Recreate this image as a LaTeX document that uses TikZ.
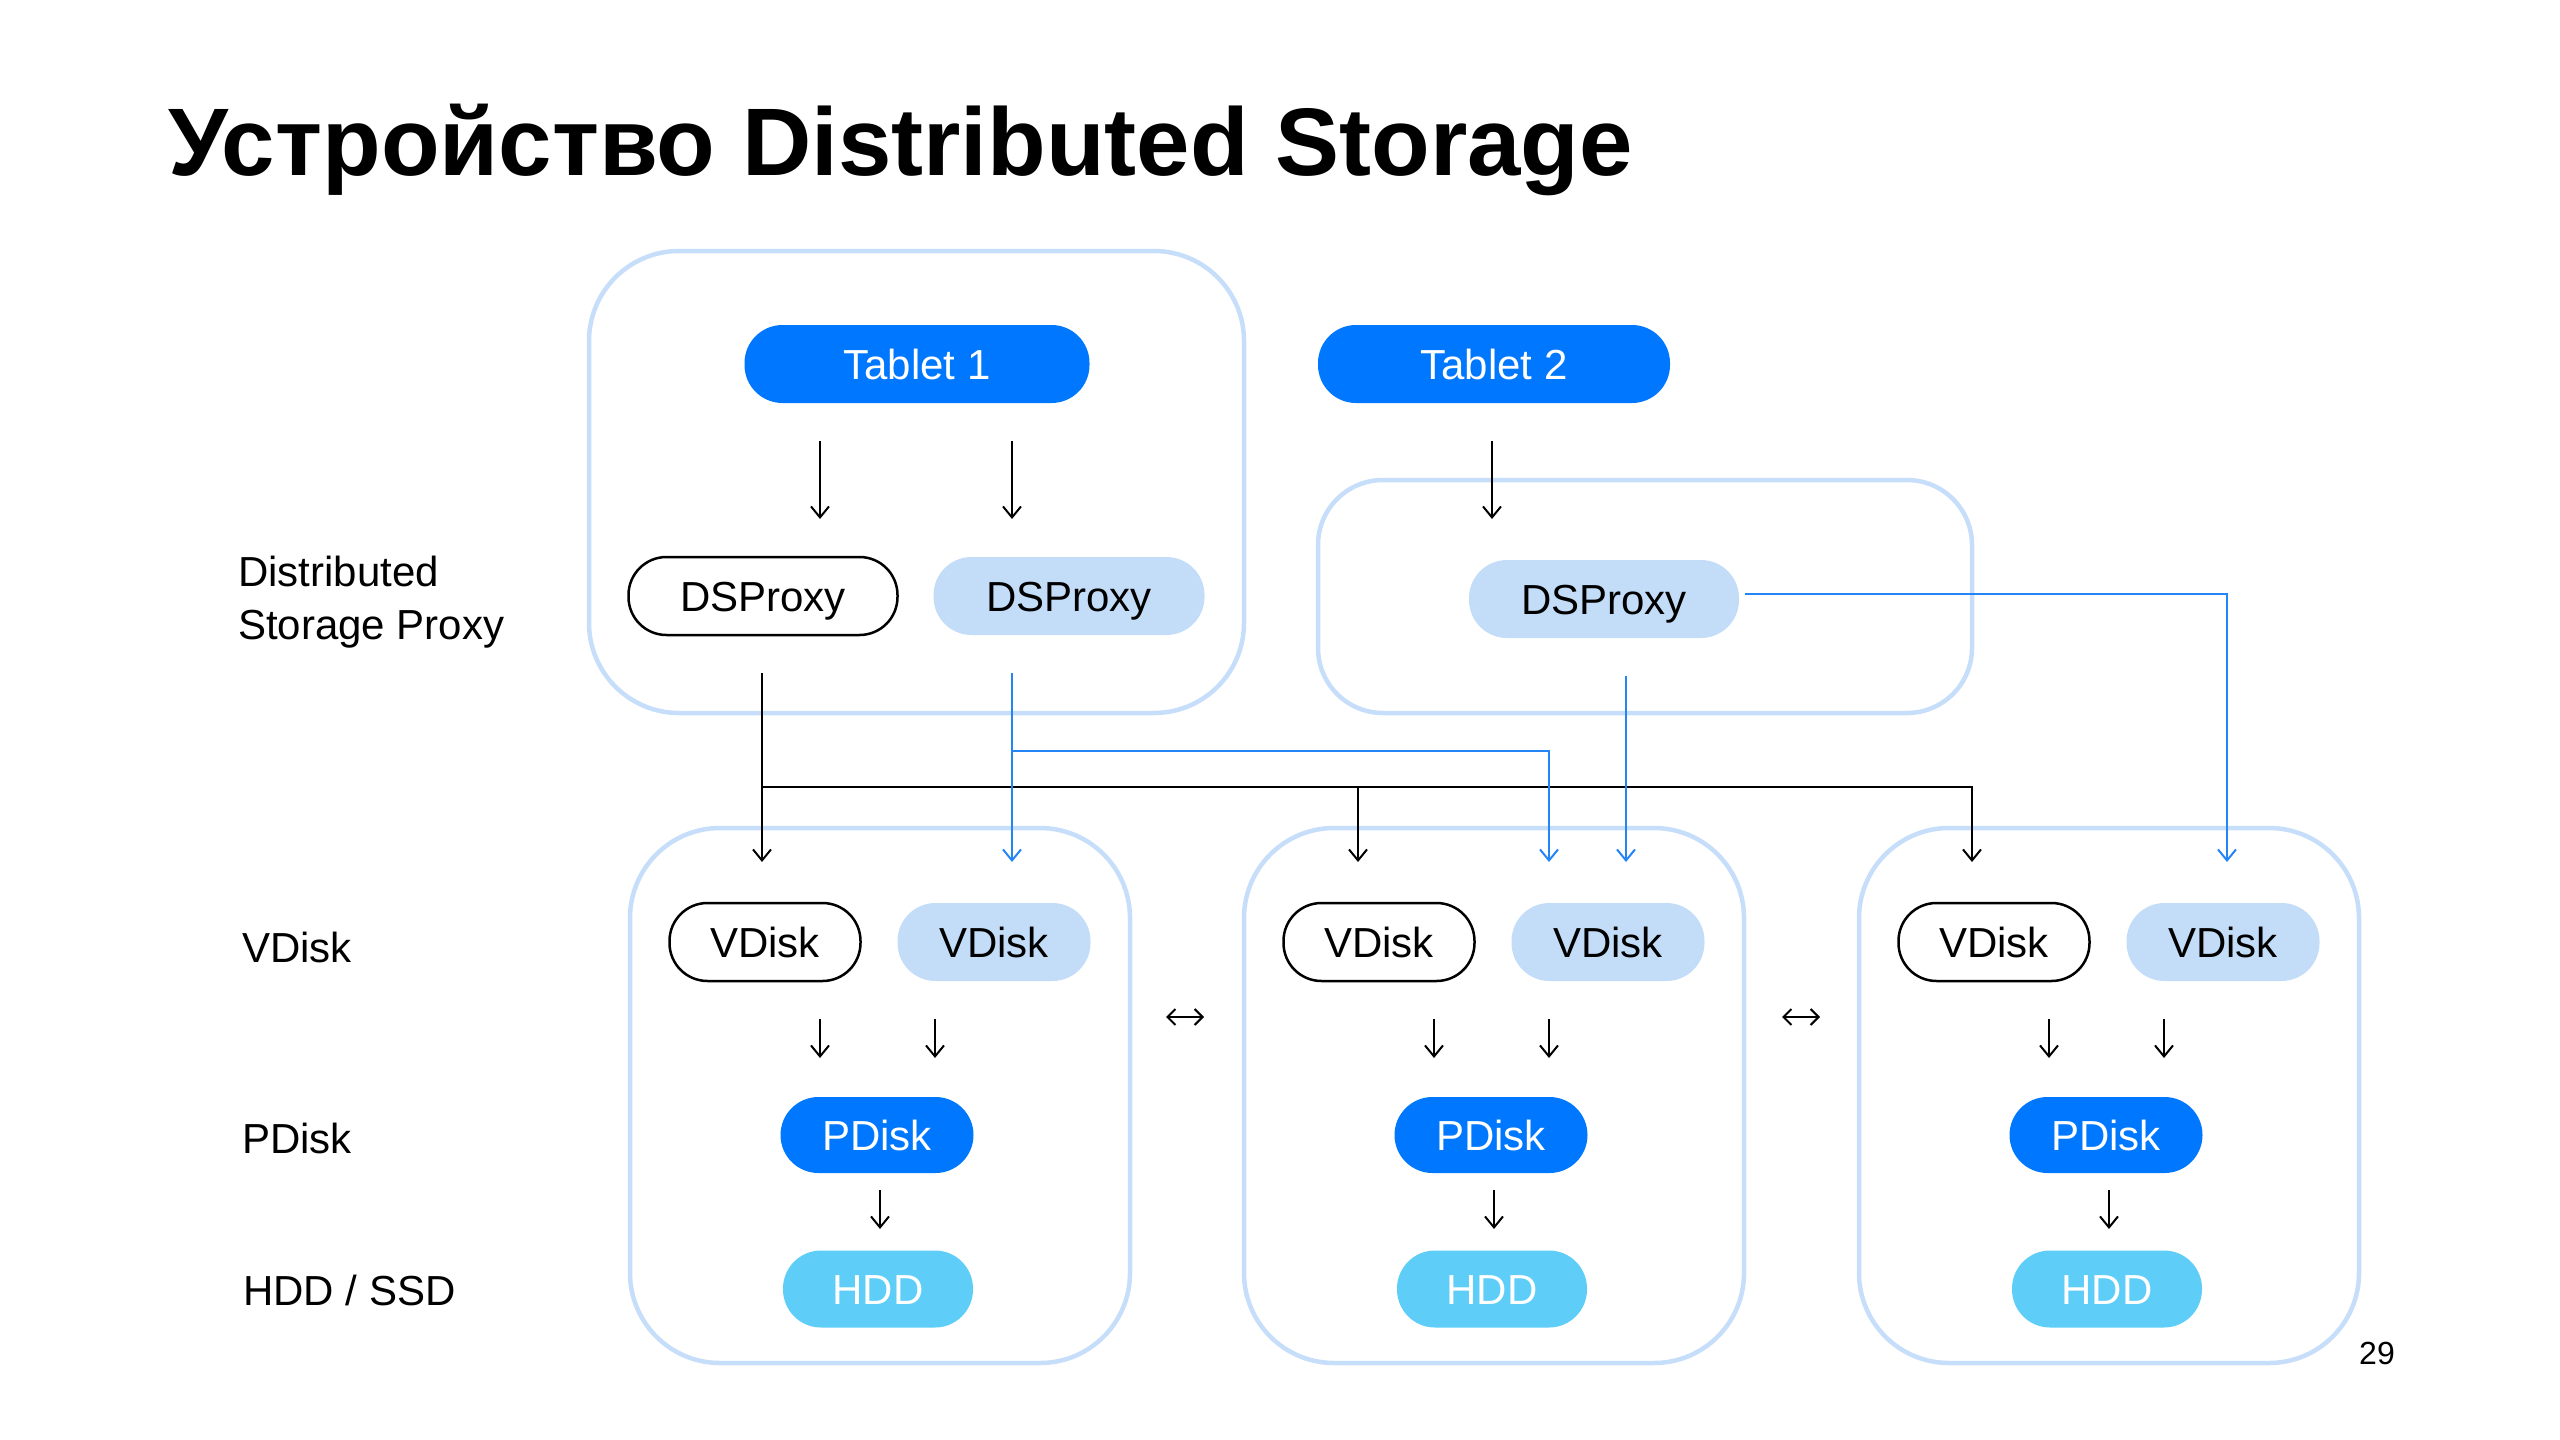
\documentclass[tikz,border=0pt]{standalone}
\usepackage{fontspec}
\setmainfont{Liberation Sans}
\usetikzlibrary{arrows.meta}
\definecolor{dblue}{HTML}{0077FF}
\definecolor{lfill}{HTML}{C3DDF9}
\definecolor{hddc}{HTML}{5ECEF9}
\definecolor{lblue}{HTML}{2585F7}
\definecolor{boxc}{HTML}{C6DEFA}
\tikzset{
  pill/.style={rounded corners=38pt, minimum height=78pt, inner sep=0pt, text height=30pt, text depth=0pt, font=\fontsize{42}{50}\selectfont},
  darkpill/.style={pill, fill=dblue, text=white},
  lightpill/.style={pill, fill=lfill},
  whitepill/.style={pill, draw=black, line width=2.5pt, fill=white},
  hddpill/.style={pill, fill=hddc, text=white},
  group/.style={draw=boxc, line width=4.5pt, rounded corners=90pt, inner sep=0pt},
  arr/.style={-{Straight Barb[length=11pt,width=18pt]}, line width=2pt, draw=black},
  barr/.style={arr, draw=lblue},
  bline/.style={line width=2pt, draw=lblue},
  kline/.style={line width=2pt, draw=black},
  lbl/.style={anchor=west, inner sep=0pt, font=\fontsize{42}{53}\selectfont, align=left}
}
\begin{document}
\begin{tikzpicture}[x=1pt,y=-1pt]
\useasboundingbox (0,0) rectangle (2560,1440);
% title
\node[anchor=base west, inner sep=0pt, font=\fontsize{96}{110}\selectfont\bfseries] (title) at (168,175) {Устройство Distributed Storage};
% left labels
\node[lbl] (ldsp) at (238,602) {Distributed\\Storage Proxy};
\node[lbl, text height=30pt, text depth=0pt] (lvd) at (242,947) {VDisk};
\node[lbl, text height=30pt, text depth=0pt] (lpd) at (242,1138) {PDisk};
\node[lbl, text height=30pt, text depth=0pt] (lhd) at (243,1290) {HDD / SSD};
% groups
\node[group, minimum width=655pt, minimum height=462pt] (g1) at (916.5,482) {};
\node[group, rounded corners=65pt, minimum width=654pt, minimum height=233pt] (g2) at (1645,596.5) {};
% tablets
\node[darkpill, minimum width=345pt] (t1) at (917,364) {Tablet 1};
\node[darkpill, minimum width=352pt] (t2) at (1494,364) {Tablet 2};
% dsproxies
\node[whitepill, minimum width=269pt] (dsw) at (763,596) {DSProxy};
\node[lightpill, minimum width=271pt] (dsl) at (1069,596) {DSProxy};
\node[lightpill, minimum width=270pt] (ds2) at (1604,599) {DSProxy};
% tablet arrows
\coordinate (ta1) at (820,441); \coordinate (tb1) at (820,519);
\coordinate (ta2) at (1012,441); \coordinate (tb2) at (1012,519);
\coordinate (ta3) at (1492,441); \coordinate (tb3) at (1492,519);
\draw[arr] (ta1) -- (tb1);
\draw[arr] (ta2) -- (tb2);
\draw[arr] (ta3) -- (tb3);
% bottom groups
\foreach \i/\dx in {a/0,b/614,c/1229}{
  \node[group, minimum width=500pt, minimum height=535pt] (bg\i) at (880+\dx,1095.5) {};
  \node[whitepill, minimum width=191pt] (vw\i) at (765+\dx,942) {VDisk};
  \node[lightpill, minimum width=193pt] (vl\i) at (994+\dx,942) {VDisk};
  \node[darkpill, minimum width=193pt, minimum height=76pt] (pd\i) at (877+\dx,1135) {PDisk};
  \node[hddpill, minimum width=190pt, minimum height=77pt] (hd\i) at (878+\dx,1289) {HDD};
  \coordinate (va\i) at (820+\dx,1019); \coordinate (vb\i) at (820+\dx,1058);
  \coordinate (wa\i) at (935+\dx,1019); \coordinate (wb\i) at (935+\dx,1058);
  \coordinate (pa\i) at (880+\dx,1190); \coordinate (pb\i) at (880+\dx,1229);
  \draw[arr] (va\i) -- (vb\i);
  \draw[arr] (wa\i) -- (wb\i);
  \draw[arr] (pa\i) -- (pb\i);
}
% double arrows between groups
\coordinate (da1) at (1166,1017); \coordinate (db1) at (1204,1017);
\coordinate (da2) at (1782,1017); \coordinate (db2) at (1820,1017);
\draw[{Straight Barb[length=8pt,width=16pt]}-{Straight Barb[length=8pt,width=16pt]}, line width=2pt] (da1) -- (db1);
\draw[{Straight Barb[length=8pt,width=16pt]}-{Straight Barb[length=8pt,width=16pt]}, line width=2pt] (da2) -- (db2);
% connectors from white DSProxy (black)
\coordinate (k0) at (762,673);
\coordinate (k1) at (762,862);
\coordinate (kj) at (762,787);
\coordinate (kb) at (1358,787);
\coordinate (kbe) at (1358,862);
\coordinate (kc) at (1972,787);
\coordinate (kce) at (1972,862);
\draw[arr] (k0) -- (k1);
\draw[kline] (kj) -- (kb);
\draw[arr] (kb) -- (kbe);
\draw[arr] (kb) -- (kc) -- (kce);
% connectors from light DSProxy in group 1 (blue)
\coordinate (b0) at (1012,673);
\coordinate (b1) at (1012,862);
\coordinate (bj) at (1012,751);
\coordinate (bb) at (1549,751);
\coordinate (bbe) at (1549,862);
\draw[barr] (b0) -- (b1);
\draw[barr] (bj) -- (bb) -- (bbe);
% connectors from DSProxy in group 2 (blue)
\coordinate (c0) at (1626,676);
\coordinate (c1) at (1626,862);
\coordinate (r0) at (1745,594);
\coordinate (r1) at (2227,594);
\coordinate (r2) at (2227,862);
\draw[barr] (c0) -- (c1);
\draw[barr] (r0) -- (r1) -- (r2);
% page number
\node[inner sep=0pt, font=\fontsize{32}{38}\selectfont] (pg) at (2377,1353) {29};
\end{tikzpicture}
\end{document}
